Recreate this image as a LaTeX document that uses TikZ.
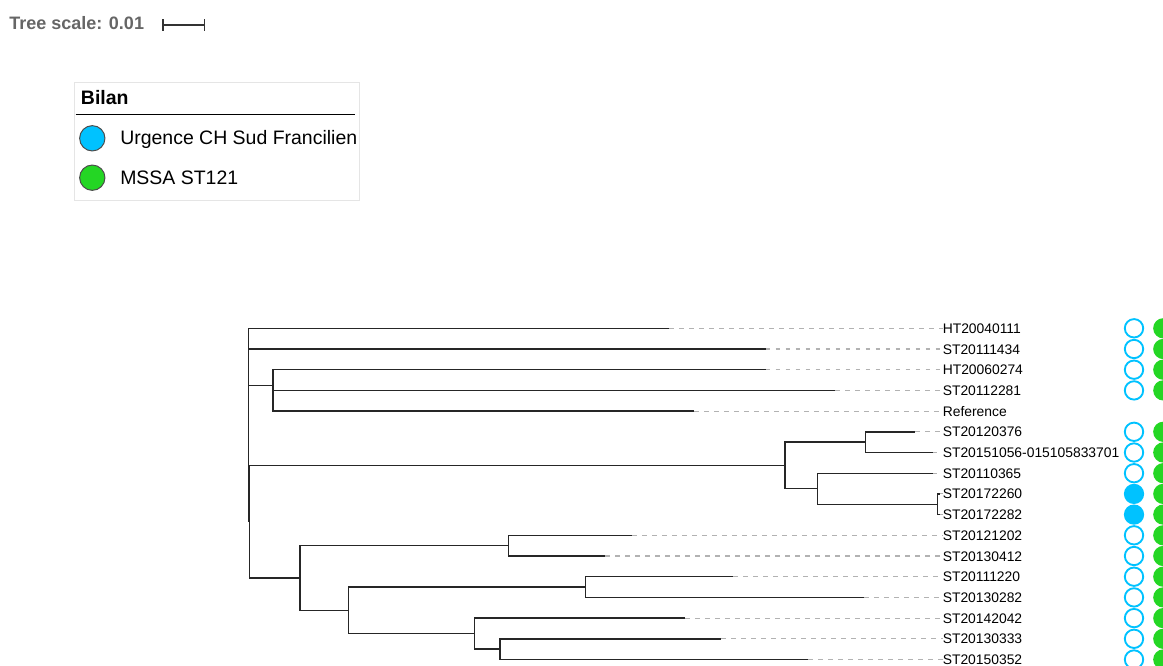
\documentclass[tikz,border=0pt]{standalone}
\usepackage{fontspec}
\setmainfont{Liberation Sans}
\definecolor{skyb}{RGB}{0,194,255}
\definecolor{grn}{RGB}{36,214,36}
\definecolor{scalegrey}{RGB}{102,102,102}
\begin{document}
\begin{tikzpicture}[x=0.75pt,y=-0.75pt,
  branch/.style={draw=black!85, line width=1.05pt},
  guide/.style={draw=black!30, line width=0.8pt, dash pattern=on 3.5pt off 4pt},
  leaf/.style={anchor=west, inner sep=0pt, font=\fontsize{10.4}{12}\selectfont},
  ring/.style={circle, draw=skyb, line width=1.4pt, fill=white, minimum size=13.8pt, inner sep=0pt},
  disc/.style={circle, fill=skyb, minimum size=15.2pt, inner sep=0pt},
  gdisc/.style={circle, fill=grn, minimum size=15.2pt, inner sep=0pt},
  legdot/.style={circle, draw=black!70, line width=0.75pt, minimum size=19pt, inner sep=0pt},
  legtext/.style={anchor=base west, inner sep=0pt, font=\fontsize{14.6}{16}\selectfont}]
\useasboundingbox (0,0) rectangle (1163,666);
\clip (0,0) rectangle (1163,666);

% tree scale
\node[anchor=base west, inner sep=0pt, text=scalegrey, font=\bfseries\fontsize{13.5}{15}\selectfont] (ts) at (9,29.3) {Tree scale: 0.01};
\coordinate (sbA) at (163,25);
\coordinate (sbB) at (204.3,25);
\draw[draw=black!80, line width=1pt] (sbA) -- (sbB);
\draw[draw=black!80, line width=1pt] ([yshift=-4.5pt]sbA) -- ([yshift=4.5pt]sbA);
\draw[draw=black!80, line width=1pt] ([yshift=-4.5pt]sbB) -- ([yshift=4.5pt]sbB);

% legend
\node[draw=black!10, line width=0.75pt, minimum width=285*0.75pt, minimum height=118*0.75pt, anchor=north west, inner sep=0pt] (legbox) at (74,82.3) {};
\node[anchor=base west, inner sep=0pt, font=\bfseries\fontsize{14.6}{16}\selectfont] (legtitle) at (80.7,104.3) {Bilan};
\coordinate (ulA) at (75.7,114.3);
\coordinate (ulB) at (355,114.3);
\draw[black, line width=1pt] (ulA) -- (ulB);
\node[legdot, fill=skyb] (ld1) at (92.3,138.3) {};
\node[legtext] (lt1) at (120,145) {Urgence CH Sud Francilien};
\node[legdot, fill=grn] (ld2) at (92.3,177.7) {};
\node[legtext] (lt2) at (120,184.4) {MSSA ST121};

% internal nodes
\coordinate (root) at (248.3,521.7);
\coordinate (A) at (273,385.2);
\coordinate (Ap) at (273,400.75);
\coordinate (B) at (249.6,521.7);
\coordinate (C) at (785,465.4);
\coordinate (D) at (865.7,442.15);
\coordinate (E) at (817.3,488.7);
\coordinate (F) at (937.7,504.25);
\coordinate (G) at (300,578);
\coordinate (H) at (508.7,545.65);
\coordinate (I) at (348.3,610.3);
\coordinate (J) at (585.7,587.05);
\coordinate (K) at (474.3,633.6);
\coordinate (L) at (500,649.15);

% leaf tips
\coordinate (t1) at (669.3,328.3);
\coordinate (t2) at (765.7,349);
\coordinate (t3) at (765.7,369.7);
\coordinate (t4) at (835,390.4);
\coordinate (t5) at (694.3,411.1);
\coordinate (t6) at (915,431.8);
\coordinate (t7) at (932.7,452.5);
\coordinate (t8) at (932.7,473.2);
\coordinate (t9) at (940,493.9);
\coordinate (t10) at (940,514.6);
\coordinate (t11) at (632.3,535.3);
\coordinate (t12) at (605,556);
\coordinate (t13) at (733.3,576.7);
\coordinate (t14) at (864,597.4);
\coordinate (t15) at (685,618.1);
\coordinate (t16) at (721,638.8);
\coordinate (t17) at (808.3,659.5);

% labels
\node[leaf] (l1) at (942.5,328.6) {HT20040111};
\node[leaf] (l2) at (942.5,349.3) {ST20111434};
\node[leaf] (l3) at (942.5,370) {HT20060274};
\node[leaf] (l4) at (942.5,390.7) {ST20112281};
\node[leaf] (l5) at (942.5,411.4) {Reference};
\node[leaf] (l6) at (942.5,432.1) {ST20120376};
\node[leaf] (l7) at (942.5,452.8) {ST20151056-015105833701};
\node[leaf] (l8) at (942.5,473.5) {ST20110365};
\node[leaf] (l9) at (942.5,494.2) {ST20172260};
\node[leaf] (l10) at (942.5,514.9) {ST20172282};
\node[leaf] (l11) at (942.5,535.6) {ST20121202};
\node[leaf] (l12) at (942.5,556.3) {ST20130412};
\node[leaf] (l13) at (942.5,577) {ST20111220};
\node[leaf] (l14) at (942.5,597.7) {ST20130282};
\node[leaf] (l15) at (942.5,618.4) {ST20142042};
\node[leaf] (l16) at (942.5,639.1) {ST20130333};
\node[leaf] (l17) at (942.5,659.8) {ST20150352};

% guide lines
\foreach \i in {1,...,17} {\draw[guide] (t\i) -- (t\i -| l\i.west);}

% branches
\draw[branch] (root) |- (t1);
\draw[branch] (root) |- (t2);
\draw[branch] (root) |- (A);
\draw[branch] (root) -- (B);
\draw[branch] (A) |- (t3);
\draw[branch] (A) -- (Ap);
\draw[branch] (Ap) |- (t4);
\draw[branch] (Ap) |- (t5);
\draw[branch] (B) |- (C);
\draw[branch] (B) |- (G);
\draw[branch] (C) |- (D);
\draw[branch] (C) |- (E);
\draw[branch] (D) |- (t6);
\draw[branch] (D) |- (t7);
\draw[branch] (E) |- (t8);
\draw[branch] (E) |- (F);
\draw[branch] (F) |- (t9);
\draw[branch] (F) |- (t10);
\draw[branch] (G) |- (H);
\draw[branch] (G) |- (I);
\draw[branch] (H) |- (t11);
\draw[branch] (H) |- (t12);
\draw[branch] (I) |- (J);
\draw[branch] (I) |- (K);
\draw[branch] (J) |- (t13);
\draw[branch] (J) |- (t14);
\draw[branch] (K) |- (t15);
\draw[branch] (K) |- (L);
\draw[branch] (L) |- (t16);
\draw[branch] (L) |- (t17);

% data circles
\foreach \i/\yy in {1/328.3,2/349,3/369.7,4/390.4,6/431.8,7/452.5,8/473.2,11/535.3,12/556,13/576.7,14/597.4,15/618.1,16/638.8,17/659.5} {
  \node[ring] (b\i) at (1134,\yy) {};
}
\node[disc] (b9) at (1134,493.9) {};
\node[disc] (b10) at (1134,514.6) {};
\foreach \i/\yy in {1/328.3,2/349,3/369.7,4/390.4,6/431.8,7/452.5,8/473.2,9/493.9,10/514.6,11/535.3,12/556,13/576.7,14/597.4,15/618.1,16/638.8,17/659.5} {
  \node[gdisc] (g\i) at (1163.3,\yy) {};
}
\end{tikzpicture}
\end{document}
